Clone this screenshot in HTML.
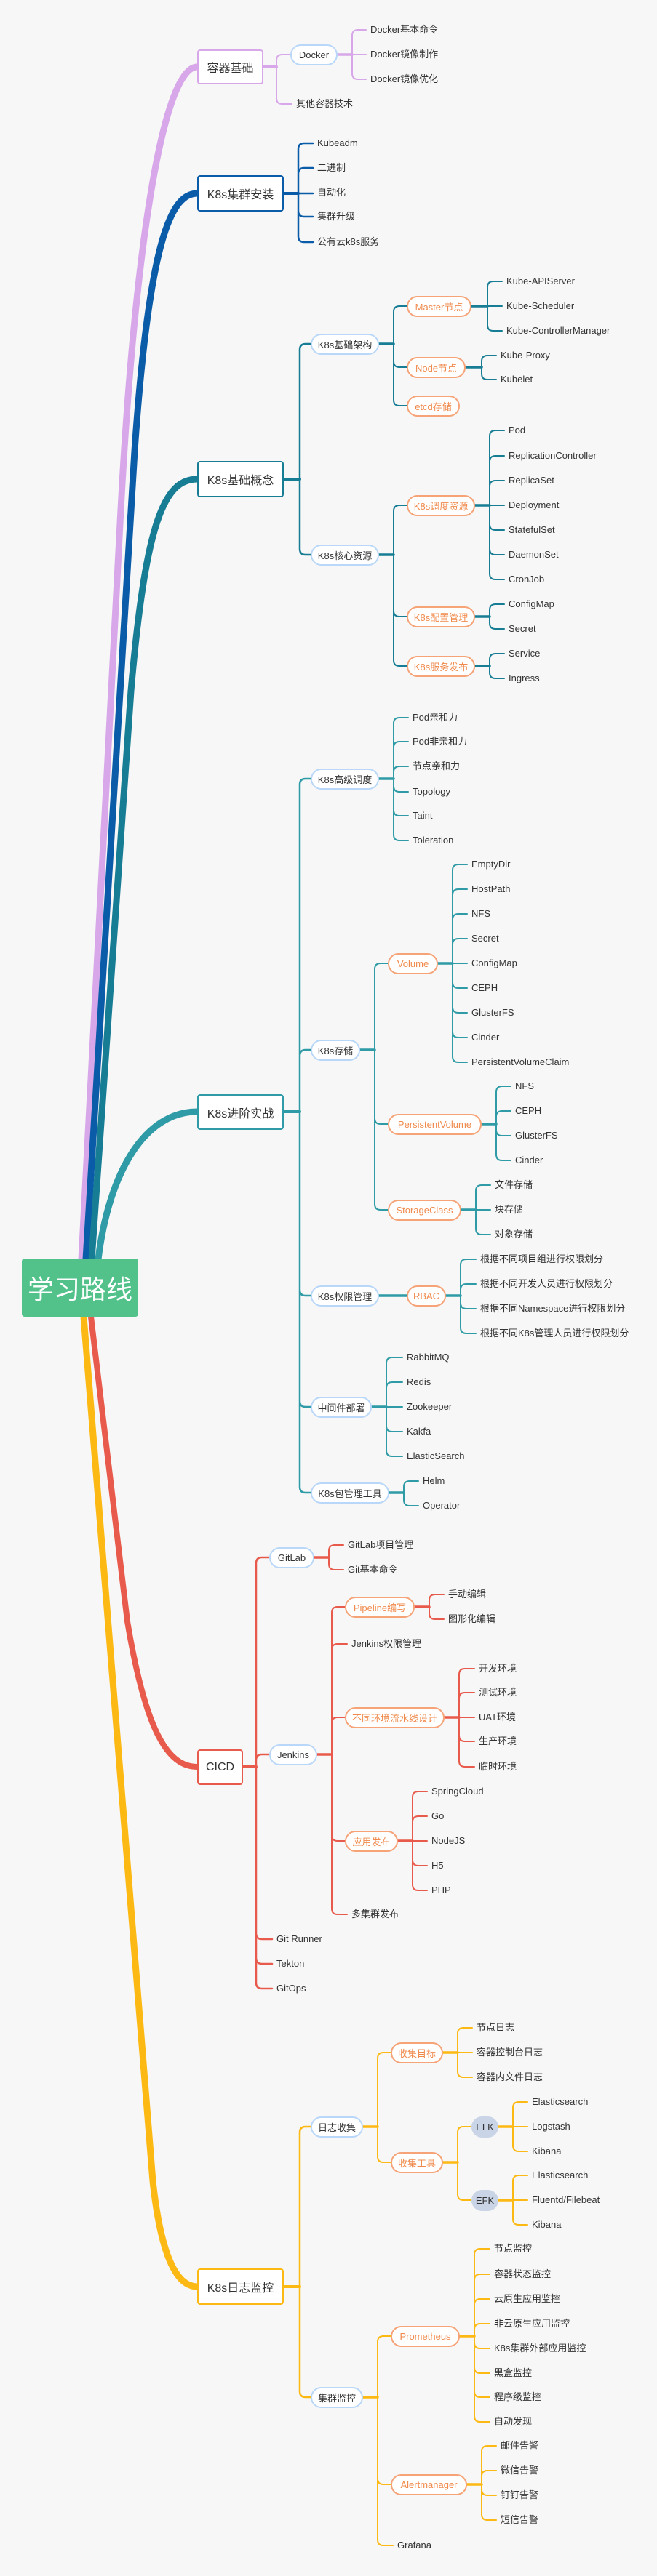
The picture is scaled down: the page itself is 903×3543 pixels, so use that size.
<!DOCTYPE html>
<html><head><meta charset="utf-8"><style>
html,body{margin:0;padding:0}
body{width:903px;height:3543px;background:#f7f7f7;position:relative;overflow:hidden;font-family:"Liberation Sans","Noto Sans CJK SC",sans-serif;color:#333}
svg{position:absolute;left:0;top:0}
.t{position:absolute;font-size:13px;line-height:18px;white-space:nowrap;color:#333}
.n{position:absolute;box-sizing:border-box;height:29px;border:2px solid #b9d7f8;border-radius:15px;background:#fff;display:flex;align-items:center;justify-content:center;font-size:13px;white-space:nowrap}
.o{border-color:#f5a377;color:#f08a4c}
.g{border:none;background:#c9d4e7;color:#333}
.m{position:absolute;box-sizing:border-box;border:2.5px solid;border-radius:4px;background:#fff;display:flex;align-items:center;justify-content:center;font-size:16px;white-space:nowrap}
</style></head><body>
<svg width="903" height="3543" fill="none" stroke-linecap="round">
<!-- main branches -->
<path d="M112 1732L165 720C185 330 225 92 271 92" stroke="#d7a7e9" stroke-width="9"/>
<path d="M118 1732L185 620C205 330 235 266 271 266" stroke="#0a5ba8" stroke-width="9"/>
<path d="M126 1732L180 950C200 720 225 659 271 659" stroke="#177d94" stroke-width="9"/>
<path d="M135 1732C150 1610 200 1529 271 1529" stroke="#2f9ba6" stroke-width="9"/>
<path d="M125 1811L175 2230C200 2380 230 2430 271 2430" stroke="#e85a4c" stroke-width="8"/>
<path d="M115 1811L210 3000C222 3110 245 3145 271 3145" stroke="#fdb913" stroke-width="9"/>

<g stroke="#d7a7e9" stroke-width="2">
<path d="M362 92H380" stroke-width="4"/>
<path d="M380 92V83Q380 75 388 75H399M380 92V135Q380 143 388 143H401"/>
<path d="M464 75H484" stroke-width="3.5"/>
<path d="M484 75V49Q484 41 492 41H503M484 75H503M484 75V101Q484 109 492 109H503"/>
</g>
<g stroke="#0a5ba8" stroke-width="2.5">
<path d="M390 266H410" stroke-width="4"/>
<path d="M410 266V205Q410 197 418 197H430M410 266V239Q410 231 418 231H430M410 266H430M410 266V290Q410 298 418 298H430M410 266V325Q410 333 418 333H430"/>
</g>
<g stroke="#177d94" stroke-width="2">
<path d="M390 659H412" stroke-width="4"/>
<path d="M412 659V481Q412 473 420 473H427M412 659V755Q412 763 420 763H427" stroke-width="2.5"/>
<path d="M521 473H541M648 421H670M640 505H662M521 763H541M653 695H673M653 848H673M653 916H673" stroke-width="3.5"/>
<path d="M541 473V429Q541 421 549 421H559M541 473V497Q541 505 549 505H559M541 473V550Q541 558 549 558H559"/>
<path d="M670 421V395Q670 387 678 387H690M670 421H690M670 421V447Q670 455 678 455H690"/>
<path d="M662 505V497Q662 489 670 489H682M662 505V514Q662 522 670 522H682"/>
<path d="M541 763V703Q541 695 549 695H559M541 763V840Q541 848 549 848H559M541 763V908Q541 916 549 916H559"/>
<path d="M673 695V600Q673 592 681 592H693M673 695V635Q673 627 681 627H693M673 695V669Q673 661 681 661H693M673 695H693M673 695V721Q673 729 681 729H693M673 695V755Q673 763 681 763H693M673 695V789Q673 797 681 797H693"/>
<path d="M673 848V839Q673 831 681 831H693M673 848V857Q673 865 681 865H693"/>
<path d="M673 916V907Q673 899 681 899H693M673 916V925Q673 933 681 933H693"/>
</g>
<g stroke="#2f9ba6" stroke-width="2">
<path d="M390 1529H412" stroke-width="4"/>
<path d="M412 1529V1079Q412 1071 420 1071H427M412 1529V1452Q412 1444 420 1444H427M412 1529V1774Q412 1782 420 1782H427M412 1529V1927Q412 1935 420 1935H427M412 1529V2045Q412 2053 420 2053H427" stroke-width="2.5"/>
<path d="M521 1071H541M495 1444H515M602 1325H622M662 1546H682M634 1664H654M521 1782H559M613 1782H633M511 1935H531M535 2053H555" stroke-width="3.5"/>
<path d="M541 1071V995Q541 987 549 987H561M541 1071V1028Q541 1020 549 1020H561M541 1071V1062Q541 1054 549 1054H561M541 1071V1081Q541 1089 549 1089H561M541 1071V1114Q541 1122 549 1122H561M541 1071V1148Q541 1156 549 1156H561"/>
<path d="M515 1444V1333Q515 1325 523 1325H533M515 1444V1538Q515 1546 523 1546H533M515 1444V1656Q515 1664 523 1664H533"/>
<path d="M622 1325V1197Q622 1189 630 1189H642M622 1325V1231Q622 1223 630 1223H642M622 1325V1265Q622 1257 630 1257H642M622 1325V1299Q622 1291 630 1291H642M622 1325H642M622 1325V1351Q622 1359 630 1359H642M622 1325V1385Q622 1393 630 1393H642M622 1325V1419Q622 1427 630 1427H642M622 1325V1453Q622 1461 630 1461H642"/>
<path d="M682 1546V1502Q682 1494 690 1494H702M682 1546V1536Q682 1528 690 1528H702M682 1546V1554Q682 1562 690 1562H702M682 1546V1588Q682 1596 690 1596H702"/>
<path d="M654 1664V1638Q654 1630 662 1630H674M654 1664H674M654 1664V1690Q654 1698 662 1698H674"/>
<path d="M633 1782V1740Q633 1732 641 1732H654M633 1782V1774Q633 1766 641 1766H654M633 1782V1792Q633 1800 641 1800H654M633 1782V1826Q633 1834 641 1834H654"/>
<path d="M531 1935V1875Q531 1867 539 1867H553M531 1935V1909Q531 1901 539 1901H553M531 1935H553M531 1935V1961Q531 1969 539 1969H553M531 1935V1995Q531 2003 539 2003H553"/>
<path d="M555 2053V2045Q555 2037 563 2037H575M555 2053V2063Q555 2071 563 2071H575"/>
</g>
<g stroke="#e85a4c" stroke-width="2">
<path d="M334 2430H352" stroke-width="4"/>
<path d="M352 2430V2150Q352 2142 360 2142H370M352 2430V2421Q352 2413 360 2413H370M352 2430V2659Q352 2667 360 2667H374M352 2430V2693Q352 2701 360 2701H374M352 2430V2727Q352 2735 360 2735H374" stroke-width="2.5"/>
<path d="M432 2142H452M436 2413H456M570 2210H590M611 2362H631M547 2532H567" stroke-width="3.5"/>
<path d="M452 2142V2133Q452 2125 460 2125H472M452 2142V2151Q452 2159 460 2159H472"/>
<path d="M456 2413V2218Q456 2210 464 2210H474M456 2413V2269Q456 2261 464 2261H477M456 2413V2370Q456 2362 464 2362H474M456 2413V2524Q456 2532 464 2532H474M456 2413V2625Q456 2633 464 2633H477"/>
<path d="M590 2210V2201Q590 2193 598 2193H610M590 2210V2219Q590 2227 598 2227H610"/>
<path d="M631 2362V2303Q631 2295 639 2295H652M631 2362V2336Q631 2328 639 2328H652M631 2362H652M631 2362V2387Q631 2395 639 2395H652M631 2362V2422Q631 2430 639 2430H652"/>
<path d="M567 2532V2472Q567 2464 575 2464H587M567 2532V2506Q567 2498 575 2498H587M567 2532H587M567 2532V2558Q567 2566 575 2566H587M567 2532V2592Q567 2600 575 2600H587"/>
</g>
<g stroke="#fdb913" stroke-width="2">
<path d="M390 3145H412" stroke-width="4"/>
<path d="M412 3145V2933Q412 2925 420 2925H427M412 3145V3289Q412 3297 420 3297H427" stroke-width="2.5"/>
<path d="M499 2925H519M609 2823H629M609 2974H629M685 2925H705M685 3026H705M499 3297H519M632 3213H652M642 3417H662" stroke-width="3.5"/>
<path d="M519 2925V2831Q519 2823 527 2823H537M519 2925V2966Q519 2974 527 2974H537"/>
<path d="M629 2823V2797Q629 2789 637 2789H649M629 2823H649M629 2823V2849Q629 2857 637 2857H649"/>
<path d="M629 2974V2933Q629 2925 637 2925H648M629 2974V3018Q629 3026 637 3026H648"/>
<path d="M705 2925V2899Q705 2891 713 2891H725M705 2925H725M705 2925V2951Q705 2959 713 2959H725"/>
<path d="M705 3026V3000Q705 2992 713 2992H725M705 3026H725M705 3026V3052Q705 3060 713 3060H725"/>
<path d="M519 3297V3221Q519 3213 527 3213H537M519 3297V3409Q519 3417 527 3417H537M519 3297V3493Q519 3501 527 3501H540"/>
<path d="M652 3213V3101Q652 3093 660 3093H673M652 3213V3136Q652 3128 660 3128H673M652 3213V3170Q652 3162 660 3162H673M652 3213V3204Q652 3196 660 3196H673M652 3213V3222Q652 3230 660 3230H673M652 3213V3256Q652 3264 660 3264H673M652 3213V3289Q652 3297 660 3297H673M652 3213V3323Q652 3331 660 3331H673"/>
<path d="M662 3417V3372Q662 3364 670 3364H682M662 3417V3406Q662 3398 670 3398H682M662 3417V3424Q662 3432 670 3432H682M662 3417V3458Q662 3466 670 3466H682"/>
</g>
</svg>

<!-- root -->
<div style="position:absolute;left:30px;top:1731px;width:160px;height:80px;background:#52c28a;border-radius:4px;color:#fff;font-size:36px;display:flex;align-items:center;justify-content:center;font-family:'Noto Sans CJK SC',sans-serif">学习路线</div>

<!-- main boxes -->
<div class="m" style="left:271px;top:68px;width:91px;height:48px;border-color:#d7a7e9">容器基础</div>
<div class="m" style="left:271px;top:241px;width:119px;height:50px;border-color:#0a5ba8">K8s集群安装</div>
<div class="m" style="left:271px;top:634px;width:119px;height:50px;border-color:#177d94">K8s基础概念</div>
<div class="m" style="left:271px;top:1505px;width:119px;height:49px;border-color:#2f9ba6">K8s进阶实战</div>
<div class="m" style="left:271px;top:2406px;width:63px;height:49px;border-color:#e85a4c">CICD</div>
<div class="m" style="left:271px;top:3120px;width:119px;height:50px;border-color:#fdb913">K8s日志监控</div>

<!-- level nodes -->
<div class="n" style="left:399px;top:61px;width:65px">Docker</div>
<div class="n" style="left:427px;top:459px;width:94px">K8s基础架构</div>
<div class="n" style="left:427px;top:749px;width:94px">K8s核心资源</div>
<div class="n" style="left:427px;top:1057px;width:94px">K8s高级调度</div>
<div class="n" style="left:427px;top:1430px;width:68px">K8s存储</div>
<div class="n" style="left:427px;top:1768px;width:94px">K8s权限管理</div>
<div class="n" style="left:427px;top:1921px;width:84px">中间件部署</div>
<div class="n" style="left:427px;top:2039px;width:108px">K8s包管理工具</div>
<div class="n" style="left:370px;top:2128px;width:62px">GitLab</div>
<div class="n" style="left:370px;top:2399px;width:66px">Jenkins</div>
<div class="n" style="left:427px;top:2911px;width:72px">日志收集</div>
<div class="n" style="left:427px;top:3283px;width:72px">集群监控</div>

<div class="n o" style="left:559px;top:407px;width:89px">Master节点</div>
<div class="n o" style="left:559px;top:491px;width:81px">Node节点</div>
<div class="n o" style="left:559px;top:544px;width:73px">etcd存储</div>
<div class="n o" style="left:559px;top:681px;width:94px">K8s调度资源</div>
<div class="n o" style="left:559px;top:834px;width:94px">K8s配置管理</div>
<div class="n o" style="left:559px;top:902px;width:94px">K8s服务发布</div>
<div class="n o" style="left:533px;top:1311px;width:69px">Volume</div>
<div class="n o" style="left:533px;top:1532px;width:129px">PersistentVolume</div>
<div class="n o" style="left:533px;top:1650px;width:101px">StorageClass</div>
<div class="n o" style="left:559px;top:1768px;width:54px">RBAC</div>
<div class="n o" style="left:474px;top:2196px;width:96px">Pipeline编写</div>
<div class="n o" style="left:474px;top:2348px;width:137px">不同环境流水线设计</div>
<div class="n o" style="left:474px;top:2518px;width:73px">应用发布</div>
<div class="n o" style="left:537px;top:2809px;width:72px">收集目标</div>
<div class="n o" style="left:537px;top:2960px;width:72px">收集工具</div>
<div class="n o" style="left:537px;top:3199px;width:95px">Prometheus</div>
<div class="n o" style="left:537px;top:3403px;width:105px">Alertmanager</div>
<div class="n g" style="left:648px;top:2911px;width:37px">ELK</div>
<div class="n g" style="left:648px;top:3012px;width:37px">EFK</div>

<!-- leaves -->
<div class="t" style="left:509px;top:32px">Docker基本命令</div>
<div class="t" style="left:509px;top:66px">Docker镜像制作</div>
<div class="t" style="left:509px;top:100px">Docker镜像优化</div>
<div class="t" style="left:407px;top:134px">其他容器技术</div>

<div class="t" style="left:436px;top:188px">Kubeadm</div>
<div class="t" style="left:436px;top:222px">二进制</div>
<div class="t" style="left:436px;top:256px">自动化</div>
<div class="t" style="left:436px;top:289px">集群升级</div>
<div class="t" style="left:436px;top:324px">公有云k8s服务</div>

<div class="t" style="left:696px;top:378px">Kube-APIServer</div>
<div class="t" style="left:696px;top:412px">Kube-Scheduler</div>
<div class="t" style="left:696px;top:446px">Kube-ControllerManager</div>
<div class="t" style="left:688px;top:480px">Kube-Proxy</div>
<div class="t" style="left:688px;top:513px">Kubelet</div>

<div class="t" style="left:699px;top:583px">Pod</div>
<div class="t" style="left:699px;top:618px">ReplicationController</div>
<div class="t" style="left:699px;top:652px">ReplicaSet</div>
<div class="t" style="left:699px;top:686px">Deployment</div>
<div class="t" style="left:699px;top:720px">StatefulSet</div>
<div class="t" style="left:699px;top:754px">DaemonSet</div>
<div class="t" style="left:699px;top:788px">CronJob</div>
<div class="t" style="left:699px;top:822px">ConfigMap</div>
<div class="t" style="left:699px;top:856px">Secret</div>
<div class="t" style="left:699px;top:890px">Service</div>
<div class="t" style="left:699px;top:924px">Ingress</div>

<div class="t" style="left:567px;top:978px">Pod亲和力</div>
<div class="t" style="left:567px;top:1011px">Pod非亲和力</div>
<div class="t" style="left:567px;top:1045px">节点亲和力</div>
<div class="t" style="left:567px;top:1080px">Topology</div>
<div class="t" style="left:567px;top:1113px">Taint</div>
<div class="t" style="left:567px;top:1147px">Toleration</div>

<div class="t" style="left:648px;top:1180px">EmptyDir</div>
<div class="t" style="left:648px;top:1214px">HostPath</div>
<div class="t" style="left:648px;top:1248px">NFS</div>
<div class="t" style="left:648px;top:1282px">Secret</div>
<div class="t" style="left:648px;top:1316px">ConfigMap</div>
<div class="t" style="left:648px;top:1350px">CEPH</div>
<div class="t" style="left:648px;top:1384px">GlusterFS</div>
<div class="t" style="left:648px;top:1418px">Cinder</div>
<div class="t" style="left:648px;top:1452px">PersistentVolumeClaim</div>
<div class="t" style="left:708px;top:1485px">NFS</div>
<div class="t" style="left:708px;top:1519px">CEPH</div>
<div class="t" style="left:708px;top:1553px">GlusterFS</div>
<div class="t" style="left:708px;top:1587px">Cinder</div>
<div class="t" style="left:680px;top:1621px">文件存储</div>
<div class="t" style="left:680px;top:1655px">块存储</div>
<div class="t" style="left:680px;top:1689px">对象存储</div>

<div class="t" style="left:660px;top:1723px">根据不同项目组进行权限划分</div>
<div class="t" style="left:660px;top:1757px">根据不同开发人员进行权限划分</div>
<div class="t" style="left:660px;top:1791px">根据不同Namespace进行权限划分</div>
<div class="t" style="left:660px;top:1825px">根据不同K8s管理人员进行权限划分</div>

<div class="t" style="left:559px;top:1858px">RabbitMQ</div>
<div class="t" style="left:559px;top:1892px">Redis</div>
<div class="t" style="left:559px;top:1926px">Zookeeper</div>
<div class="t" style="left:559px;top:1960px">Kakfa</div>
<div class="t" style="left:559px;top:1994px">ElasticSearch</div>
<div class="t" style="left:581px;top:2028px">Helm</div>
<div class="t" style="left:581px;top:2062px">Operator</div>

<div class="t" style="left:478px;top:2116px">GitLab项目管理</div>
<div class="t" style="left:478px;top:2150px">Git基本命令</div>
<div class="t" style="left:616px;top:2184px">手动编辑</div>
<div class="t" style="left:616px;top:2218px">图形化编辑</div>
<div class="t" style="left:483px;top:2252px">Jenkins权限管理</div>
<div class="t" style="left:658px;top:2286px">开发环境</div>
<div class="t" style="left:658px;top:2319px">测试环境</div>
<div class="t" style="left:658px;top:2353px">UAT环境</div>
<div class="t" style="left:658px;top:2386px">生产环境</div>
<div class="t" style="left:658px;top:2421px">临时环境</div>
<div class="t" style="left:593px;top:2455px">SpringCloud</div>
<div class="t" style="left:593px;top:2489px">Go</div>
<div class="t" style="left:593px;top:2523px">NodeJS</div>
<div class="t" style="left:593px;top:2557px">H5</div>
<div class="t" style="left:593px;top:2591px">PHP</div>
<div class="t" style="left:483px;top:2624px">多集群发布</div>
<div class="t" style="left:380px;top:2658px">Git Runner</div>
<div class="t" style="left:380px;top:2692px">Tekton</div>
<div class="t" style="left:380px;top:2726px">GitOps</div>

<div class="t" style="left:655px;top:2780px">节点日志</div>
<div class="t" style="left:655px;top:2814px">容器控制台日志</div>
<div class="t" style="left:655px;top:2848px">容器内文件日志</div>
<div class="t" style="left:731px;top:2882px">Elasticsearch</div>
<div class="t" style="left:731px;top:2916px">Logstash</div>
<div class="t" style="left:731px;top:2950px">Kibana</div>
<div class="t" style="left:731px;top:2983px">Elasticsearch</div>
<div class="t" style="left:731px;top:3017px">Fluentd/Filebeat</div>
<div class="t" style="left:731px;top:3051px">Kibana</div>

<div class="t" style="left:679px;top:3084px">节点监控</div>
<div class="t" style="left:679px;top:3119px">容器状态监控</div>
<div class="t" style="left:679px;top:3153px">云原生应用监控</div>
<div class="t" style="left:679px;top:3187px">非云原生应用监控</div>
<div class="t" style="left:679px;top:3221px">K8s集群外部应用监控</div>
<div class="t" style="left:679px;top:3255px">黑盒监控</div>
<div class="t" style="left:679px;top:3288px">程序级监控</div>
<div class="t" style="left:679px;top:3322px">自动发现</div>
<div class="t" style="left:688px;top:3355px">邮件告警</div>
<div class="t" style="left:688px;top:3389px">微信告警</div>
<div class="t" style="left:688px;top:3423px">钉钉告警</div>
<div class="t" style="left:688px;top:3457px">短信告警</div>
<div class="t" style="left:546px;top:3492px">Grafana</div>
</body></html>
